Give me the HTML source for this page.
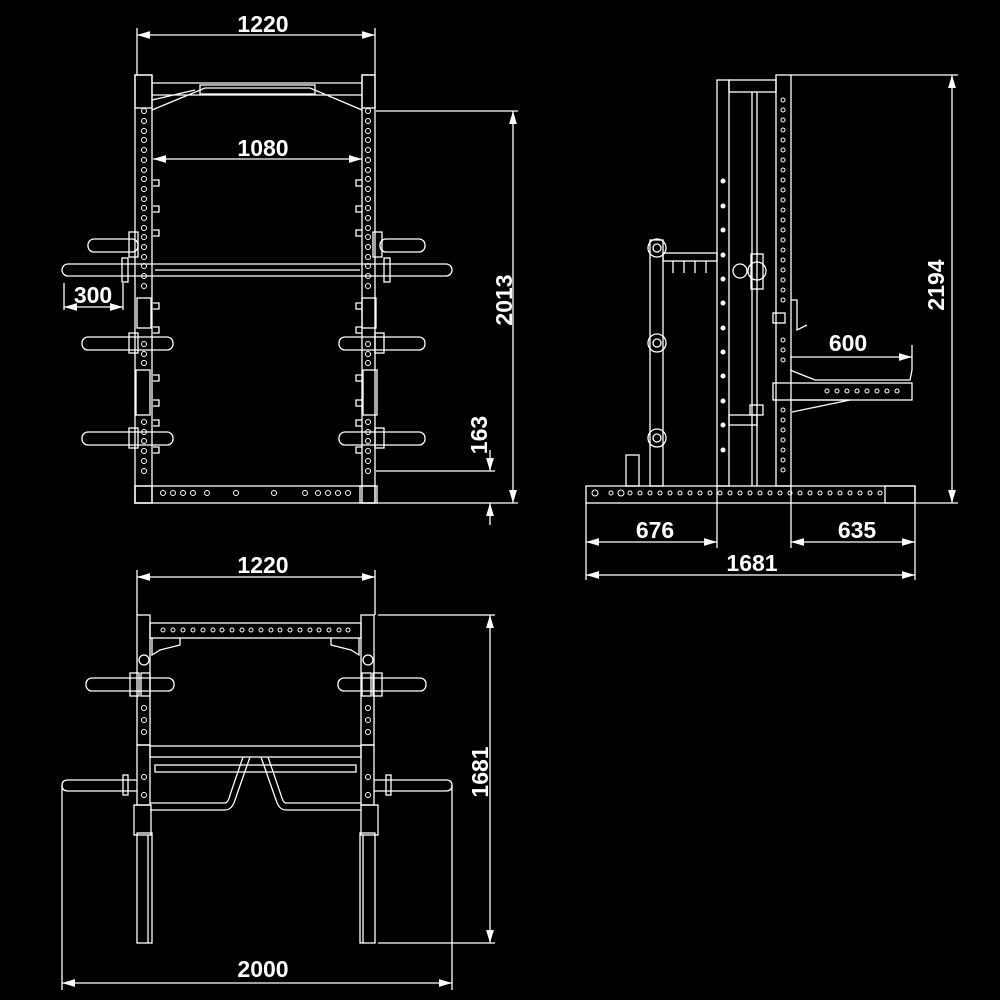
<!DOCTYPE html>
<html><head><meta charset="utf-8"><style>
html,body{margin:0;padding:0;background:#000;}
svg{display:block}
text{font-family:"Liberation Sans",Arial,sans-serif;font-weight:bold;font-size:23px;fill:#fff}
</style></head><body>
<svg width="1000" height="1000" viewBox="0 0 1000 1000" xmlns="http://www.w3.org/2000/svg">
<defs>
<marker id="a" viewBox="0 0 10 6" refX="10" refY="3" markerWidth="10" markerHeight="6" orient="auto-start-reverse"><path d="M0,0 L10,3 L0,6z" fill="#fff"/></marker>
</defs>
<rect width="1000" height="1000" fill="#000"/>
<g fill="none" stroke="#fff" stroke-width="1.3">
<line x1="137" y1="28" x2="137" y2="75"/><line x1="375" y1="28" x2="375" y2="75"/>
<line x1="137" y1="35" x2="375" y2="35" marker-start="url(#a)" marker-end="url(#a)"/>
<line x1="153" y1="159" x2="362" y2="159" marker-start="url(#a)" marker-end="url(#a)"/>
<line x1="64" y1="283" x2="64" y2="310"/><line x1="123" y1="283" x2="123" y2="310"/>
<line x1="64" y1="307" x2="123" y2="307" marker-start="url(#a)" marker-end="url(#a)"/>
<line x1="376" y1="111" x2="518" y2="111"/><line x1="376" y1="503" x2="518" y2="503"/>
<line x1="376" y1="471" x2="495" y2="471"/>
<line x1="513" y1="111" x2="513" y2="503" marker-start="url(#a)" marker-end="url(#a)"/>
<line x1="490" y1="450" x2="490" y2="471" marker-end="url(#a)"/>
<line x1="490" y1="525" x2="490" y2="503" marker-end="url(#a)"/>
<rect x="135" y="75" width="17" height="428"/><rect x="362" y="75" width="13" height="428"/>
<rect x="135" y="75" width="17" height="33"/><rect x="362" y="75" width="13" height="33"/>
<path d="M152,83 H362 M152,95 H362 M152,110 L205,88 H310 L362,110 M152,100 L195,90"/>
<rect x="200" y="85" width="115" height="9"/>
<rect x="135" y="486" width="240" height="17"/>
<rect x="135" y="486" width="17" height="17"/><rect x="360" y="486" width="17" height="17"/>
<rect x="62" y="264" width="390" height="12" rx="6"/>
<line x1="155" y1="270" x2="360" y2="270"/>
<rect x="122" y="258" width="6" height="24"/><rect x="384" y="258" width="6" height="24"/>
<rect x="88" y="239" width="50" height="13" rx="6"/><rect x="380" y="239" width="45" height="13" rx="6"/>
<rect x="129" y="232" width="9" height="25"/><rect x="373" y="232" width="9" height="25"/>
<rect x="82" y="337" width="91" height="13" rx="6"/><rect x="339" y="337" width="86" height="13" rx="6"/>
<rect x="129" y="333" width="9" height="20"/><rect x="375" y="333" width="9" height="20"/>
<rect x="82" y="432" width="91" height="13" rx="6"/><rect x="339" y="432" width="86" height="13" rx="6"/>
<rect x="129" y="428" width="9" height="20"/><rect x="375" y="428" width="9" height="20"/>
<rect x="137" y="298" width="14" height="30"/><rect x="362" y="298" width="14" height="30"/>
<rect x="136" y="370" width="14" height="45"/><rect x="363" y="370" width="14" height="45"/>
<path d="M153,180h6v6h-6 M153,206h6v6h-6 M153,230h6v6h-6 M153,303h6v6h-6 M153,327h6v6h-6 M153,375h6v6h-6 M153,400h6v6h-6 M153,420h6v6h-6 M153,447h6v6h-6"/>
<path d="M362,180h-6v6h6 M362,206h-6v6h6 M362,230h-6v6h6 M362,303h-6v6h6 M362,327h-6v6h6 M362,375h-6v6h6 M362,400h-6v6h6 M362,420h-6v6h6 M362,447h-6v6h6"/>
</g>
<g fill="none" stroke="#fff" stroke-width="1">
<g id="hl">
<circle cx="144" cy="111" r="2.5"/><circle cx="144" cy="121" r="2.5"/><circle cx="144" cy="131" r="2.5"/><circle cx="144" cy="140" r="2.5"/><circle cx="144" cy="150" r="2.5"/><circle cx="144" cy="160" r="2.5"/><circle cx="144" cy="170" r="2.5"/><circle cx="144" cy="179" r="2.5"/><circle cx="144" cy="189" r="2.5"/><circle cx="144" cy="199" r="2.5"/><circle cx="144" cy="208" r="2.5"/><circle cx="144" cy="218" r="2.5"/><circle cx="144" cy="228" r="2.5"/><circle cx="144" cy="237" r="2.5"/><circle cx="144" cy="247" r="2.5"/><circle cx="144" cy="257" r="2.5"/><circle cx="144" cy="266" r="2.5"/><circle cx="144" cy="276" r="2.5"/><circle cx="144" cy="286" r="2.5"/><circle cx="144" cy="344" r="2.5"/><circle cx="144" cy="354" r="2.5"/><circle cx="144" cy="363" r="2.5"/><circle cx="144" cy="422" r="2.5"/><circle cx="144" cy="432" r="2.5"/><circle cx="144" cy="441" r="2.5"/><circle cx="144" cy="451" r="2.5"/><circle cx="144" cy="461" r="2.5"/><circle cx="144" cy="471" r="2.5"/>
</g>
<use href="#hl" x="224"/>
<circle cx="163" cy="493" r="2.5"/><circle cx="173" cy="493" r="2.5"/><circle cx="183" cy="493" r="2.5"/><circle cx="193" cy="493" r="2.5"/><circle cx="207" cy="493" r="2.5"/><circle cx="236" cy="493" r="2.5"/><circle cx="274" cy="493" r="2.5"/><circle cx="305" cy="493" r="2.5"/><circle cx="318" cy="493" r="2.5"/><circle cx="328" cy="493" r="2.5"/><circle cx="338" cy="493" r="2.5"/><circle cx="348" cy="493" r="2.5"/>
</g>

<g fill="none" stroke="#fff" stroke-width="1.3">
<rect x="586" y="486" width="329" height="17"/>
<path d="M885,486 L915,486 L915,503 L885,503 Z"/>
<rect x="717" y="80" width="12" height="406"/>
<rect x="776" y="75" width="15" height="411"/>
<rect x="729" y="80" width="47" height="12"/>
<line x1="752" y1="92" x2="752" y2="486"/><line x1="757" y1="92" x2="757" y2="486"/>
<rect x="650" y="240" width="13" height="246"/>
<circle cx="657" cy="248" r="9"/><circle cx="657" cy="343" r="9"/><circle cx="657" cy="438" r="9"/>
<circle cx="657" cy="248" r="4"/><circle cx="657" cy="343" r="4"/><circle cx="657" cy="438" r="4"/>
<rect x="663" y="253" width="54" height="8"/>
<path d="M673,261v12 M684,261v12 M695,261v12 M706,261v12"/>
<circle cx="740" cy="271" r="7"/><circle cx="757" cy="271" r="9"/>
<rect x="751" y="254" width="12" height="35"/>
<rect x="626" y="455" width="13" height="31"/>
<rect x="729" y="415" width="28" height="10"/>
<rect x="750" y="405" width="13" height="10"/>
<rect x="773" y="383" width="139" height="17"/>
<path d="M790,370 L815,380 H910 L912,370 M790,400 L850,400 M792,412 L850,400"/>
<rect x="773" y="313" width="12" height="10"/>
<path d="M791,300 h6 v30 l10,-5"/>
<line x1="791" y1="75" x2="958" y2="75"/>
<line x1="952" y1="75" x2="952" y2="503" marker-start="url(#a)" marker-end="url(#a)"/>
<line x1="916" y1="503" x2="958" y2="503"/>
<line x1="912" y1="345" x2="912" y2="370"/>
<line x1="790" y1="357" x2="912" y2="357" marker-end="url(#a)"/>
<line x1="586" y1="503" x2="586" y2="580"/><line x1="915" y1="503" x2="915" y2="580"/>
<line x1="717" y1="486" x2="717" y2="548"/><line x1="791" y1="486" x2="791" y2="548"/>
<line x1="586" y1="542" x2="717" y2="542" marker-start="url(#a)" marker-end="url(#a)"/>
<line x1="791" y1="542" x2="915" y2="542" marker-start="url(#a)" marker-end="url(#a)"/>
<line x1="586" y1="575" x2="915" y2="575" marker-start="url(#a)" marker-end="url(#a)"/>
</g>
<g fill="none" stroke="#fff" stroke-width="1">
<g id="hs"><circle cx="783" cy="100" r="2"/><circle cx="783" cy="110" r="2"/><circle cx="783" cy="120" r="2"/><circle cx="783" cy="130" r="2"/><circle cx="783" cy="140" r="2"/><circle cx="783" cy="150" r="2"/><circle cx="783" cy="160" r="2"/><circle cx="783" cy="170" r="2"/><circle cx="783" cy="180" r="2"/><circle cx="783" cy="190" r="2"/><circle cx="783" cy="200" r="2"/><circle cx="783" cy="210" r="2"/><circle cx="783" cy="220" r="2"/><circle cx="783" cy="230" r="2"/><circle cx="783" cy="240" r="2"/><circle cx="783" cy="250" r="2"/><circle cx="783" cy="260" r="2"/><circle cx="783" cy="270" r="2"/><circle cx="783" cy="280" r="2"/><circle cx="783" cy="290" r="2"/><circle cx="783" cy="300" r="2"/><circle cx="783" cy="340" r="2"/><circle cx="783" cy="350" r="2"/><circle cx="783" cy="360" r="2"/><circle cx="783" cy="410" r="2"/><circle cx="783" cy="420" r="2"/><circle cx="783" cy="430" r="2"/><circle cx="783" cy="440" r="2"/><circle cx="783" cy="450" r="2"/><circle cx="783" cy="460" r="2"/><circle cx="783" cy="470" r="2"/></g>
<circle cx="595" cy="493" r="3"/><circle cx="621" cy="493" r="3"/>
<circle cx="611" cy="493" r="2"/><circle cx="630" cy="493" r="2"/><circle cx="640" cy="493" r="2"/><circle cx="650" cy="493" r="2"/><circle cx="660" cy="493" r="2"/><circle cx="670" cy="493" r="2"/><circle cx="680" cy="493" r="2"/><circle cx="690" cy="493" r="2"/><circle cx="700" cy="493" r="2"/><circle cx="710" cy="493" r="2"/><circle cx="720" cy="493" r="2"/><circle cx="730" cy="493" r="2"/><circle cx="740" cy="493" r="2"/><circle cx="750" cy="493" r="2"/><circle cx="760" cy="493" r="2"/><circle cx="770" cy="493" r="2"/><circle cx="780" cy="493" r="2"/><circle cx="790" cy="493" r="2"/><circle cx="800" cy="493" r="2"/><circle cx="810" cy="493" r="2"/><circle cx="820" cy="493" r="2"/><circle cx="830" cy="493" r="2"/><circle cx="840" cy="493" r="2"/><circle cx="850" cy="493" r="2"/><circle cx="860" cy="493" r="2"/><circle cx="870" cy="493" r="2"/><circle cx="880" cy="493" r="2"/>
<circle cx="827" cy="391" r="2"/><circle cx="837" cy="391" r="2"/><circle cx="847" cy="391" r="2"/><circle cx="857" cy="391" r="2"/><circle cx="867" cy="391" r="2"/><circle cx="877" cy="391" r="2"/><circle cx="887" cy="391" r="2"/><circle cx="897" cy="391" r="2"/>
</g>
<g fill="#fff"><circle cx="723" cy="181" r="2.5"/><circle cx="723" cy="206" r="2.5"/><circle cx="723" cy="230" r="2.5"/><circle cx="723" cy="255" r="2.5"/><circle cx="723" cy="279" r="2.5"/><circle cx="723" cy="303" r="2.5"/><circle cx="723" cy="328" r="2.5"/><circle cx="723" cy="352" r="2.5"/><circle cx="723" cy="376" r="2.5"/><circle cx="723" cy="401" r="2.5"/><circle cx="723" cy="425" r="2.5"/><circle cx="723" cy="450" r="2.5"/></g>

<g fill="none" stroke="#fff" stroke-width="1.3">
<line x1="137" y1="570" x2="137" y2="615"/><line x1="375" y1="570" x2="375" y2="615"/>
<line x1="137" y1="577" x2="375" y2="577" marker-start="url(#a)" marker-end="url(#a)"/>
<line x1="378" y1="615" x2="495" y2="615"/><line x1="378" y1="943" x2="495" y2="943"/>
<line x1="490" y1="615" x2="490" y2="943" marker-start="url(#a)" marker-end="url(#a)"/>
<line x1="62" y1="785" x2="62" y2="990"/><line x1="452" y1="785" x2="452" y2="990"/>
<line x1="62" y1="983" x2="452" y2="983" marker-start="url(#a)" marker-end="url(#a)"/>
<rect x="137" y="615" width="13" height="130"/><rect x="361" y="615" width="13" height="130"/>
<rect x="150" y="623" width="211" height="15"/>
<path d="M152,638 V655 L160,650 L180,645 V638 M359,638 V655 L351,650 L331,645 V638"/>
<rect x="86" y="678" width="88" height="13" rx="6"/><rect x="338" y="678" width="88" height="13" rx="6"/>
<rect x="130" y="673" width="9" height="23"/><rect x="141" y="673" width="9" height="23"/>
<rect x="362" y="673" width="9" height="23"/><rect x="373" y="673" width="9" height="23"/>
<circle cx="144" cy="660" r="5"/><circle cx="368" cy="660" r="5"/>
<rect x="137" y="745" width="13" height="60"/><rect x="361" y="745" width="13" height="60"/>
<rect x="150" y="746" width="211" height="11"/>
<rect x="155" y="765" width="201" height="7"/>
<path d="M137,780 H68 Q62,780 62,785.5 Q62,791 68,791 H137 M374,780 H446 Q452,780 452,785.5 Q452,791 446,791 H374"/>
<rect x="123" y="775" width="5" height="20"/><rect x="386" y="775" width="5" height="20"/>
<path d="M150,810 H225 Q232,810 235,800 L250,757 M361,810 H286 Q279,810 276,800 L261,757 M150,803 H225 Q228,803 230,795 L243,757 M361,803 H286 Q283,803 281,795 L268,757"/>
<rect x="134" y="805" width="17" height="30"/><rect x="361" y="805" width="17" height="30"/>
<rect x="137" y="833" width="15" height="110"/><rect x="360" y="833" width="15" height="110"/>
<line x1="148" y1="835" x2="148" y2="943"/><line x1="363" y1="835" x2="363" y2="943"/>
</g>
<g fill="none" stroke="#fff" stroke-width="1">
<circle cx="163" cy="630" r="2"/><circle cx="173" cy="630" r="2"/><circle cx="183" cy="630" r="2"/><circle cx="193" cy="630" r="2"/><circle cx="203" cy="630" r="2"/><circle cx="213" cy="630" r="2"/><circle cx="222" cy="630" r="2"/><circle cx="232" cy="630" r="2"/><circle cx="242" cy="630" r="2"/><circle cx="251" cy="630" r="2"/><circle cx="261" cy="630" r="2"/><circle cx="271" cy="630" r="2"/><circle cx="280" cy="630" r="2"/><circle cx="290" cy="630" r="2"/><circle cx="300" cy="630" r="2"/><circle cx="310" cy="630" r="2"/><circle cx="319" cy="630" r="2"/><circle cx="329" cy="630" r="2"/><circle cx="339" cy="630" r="2"/><circle cx="348" cy="630" r="2"/>
<circle cx="144" cy="708" r="2.5"/><circle cx="144" cy="720" r="2.5"/><circle cx="144" cy="732" r="2.5"/><circle cx="144" cy="777" r="2.5"/><circle cx="144" cy="795" r="2.5"/>
<circle cx="368" cy="708" r="2.5"/><circle cx="368" cy="720" r="2.5"/><circle cx="368" cy="732" r="2.5"/><circle cx="368" cy="777" r="2.5"/><circle cx="368" cy="795" r="2.5"/>
</g>

<text x="263" y="32" text-anchor="middle">1220</text>
<text x="263" y="156" text-anchor="middle">1080</text>
<text x="93" y="303" text-anchor="middle">300</text>
<text transform="translate(512,300) rotate(-90)" text-anchor="middle">2013</text>
<text transform="translate(487,435) rotate(-90)" text-anchor="middle">163</text>
<text x="848" y="351" text-anchor="middle">600</text>
<text transform="translate(944,285) rotate(-90)" text-anchor="middle">2194</text>
<text x="655" y="538" text-anchor="middle">676</text>
<text x="857" y="538" text-anchor="middle">635</text>
<text x="752" y="571" text-anchor="middle">1681</text>
<text x="263" y="573" text-anchor="middle">1220</text>
<text transform="translate(488,772) rotate(-90)" text-anchor="middle">1681</text>
<text x="263" y="977" text-anchor="middle">2000</text>
</svg>
</body></html>
